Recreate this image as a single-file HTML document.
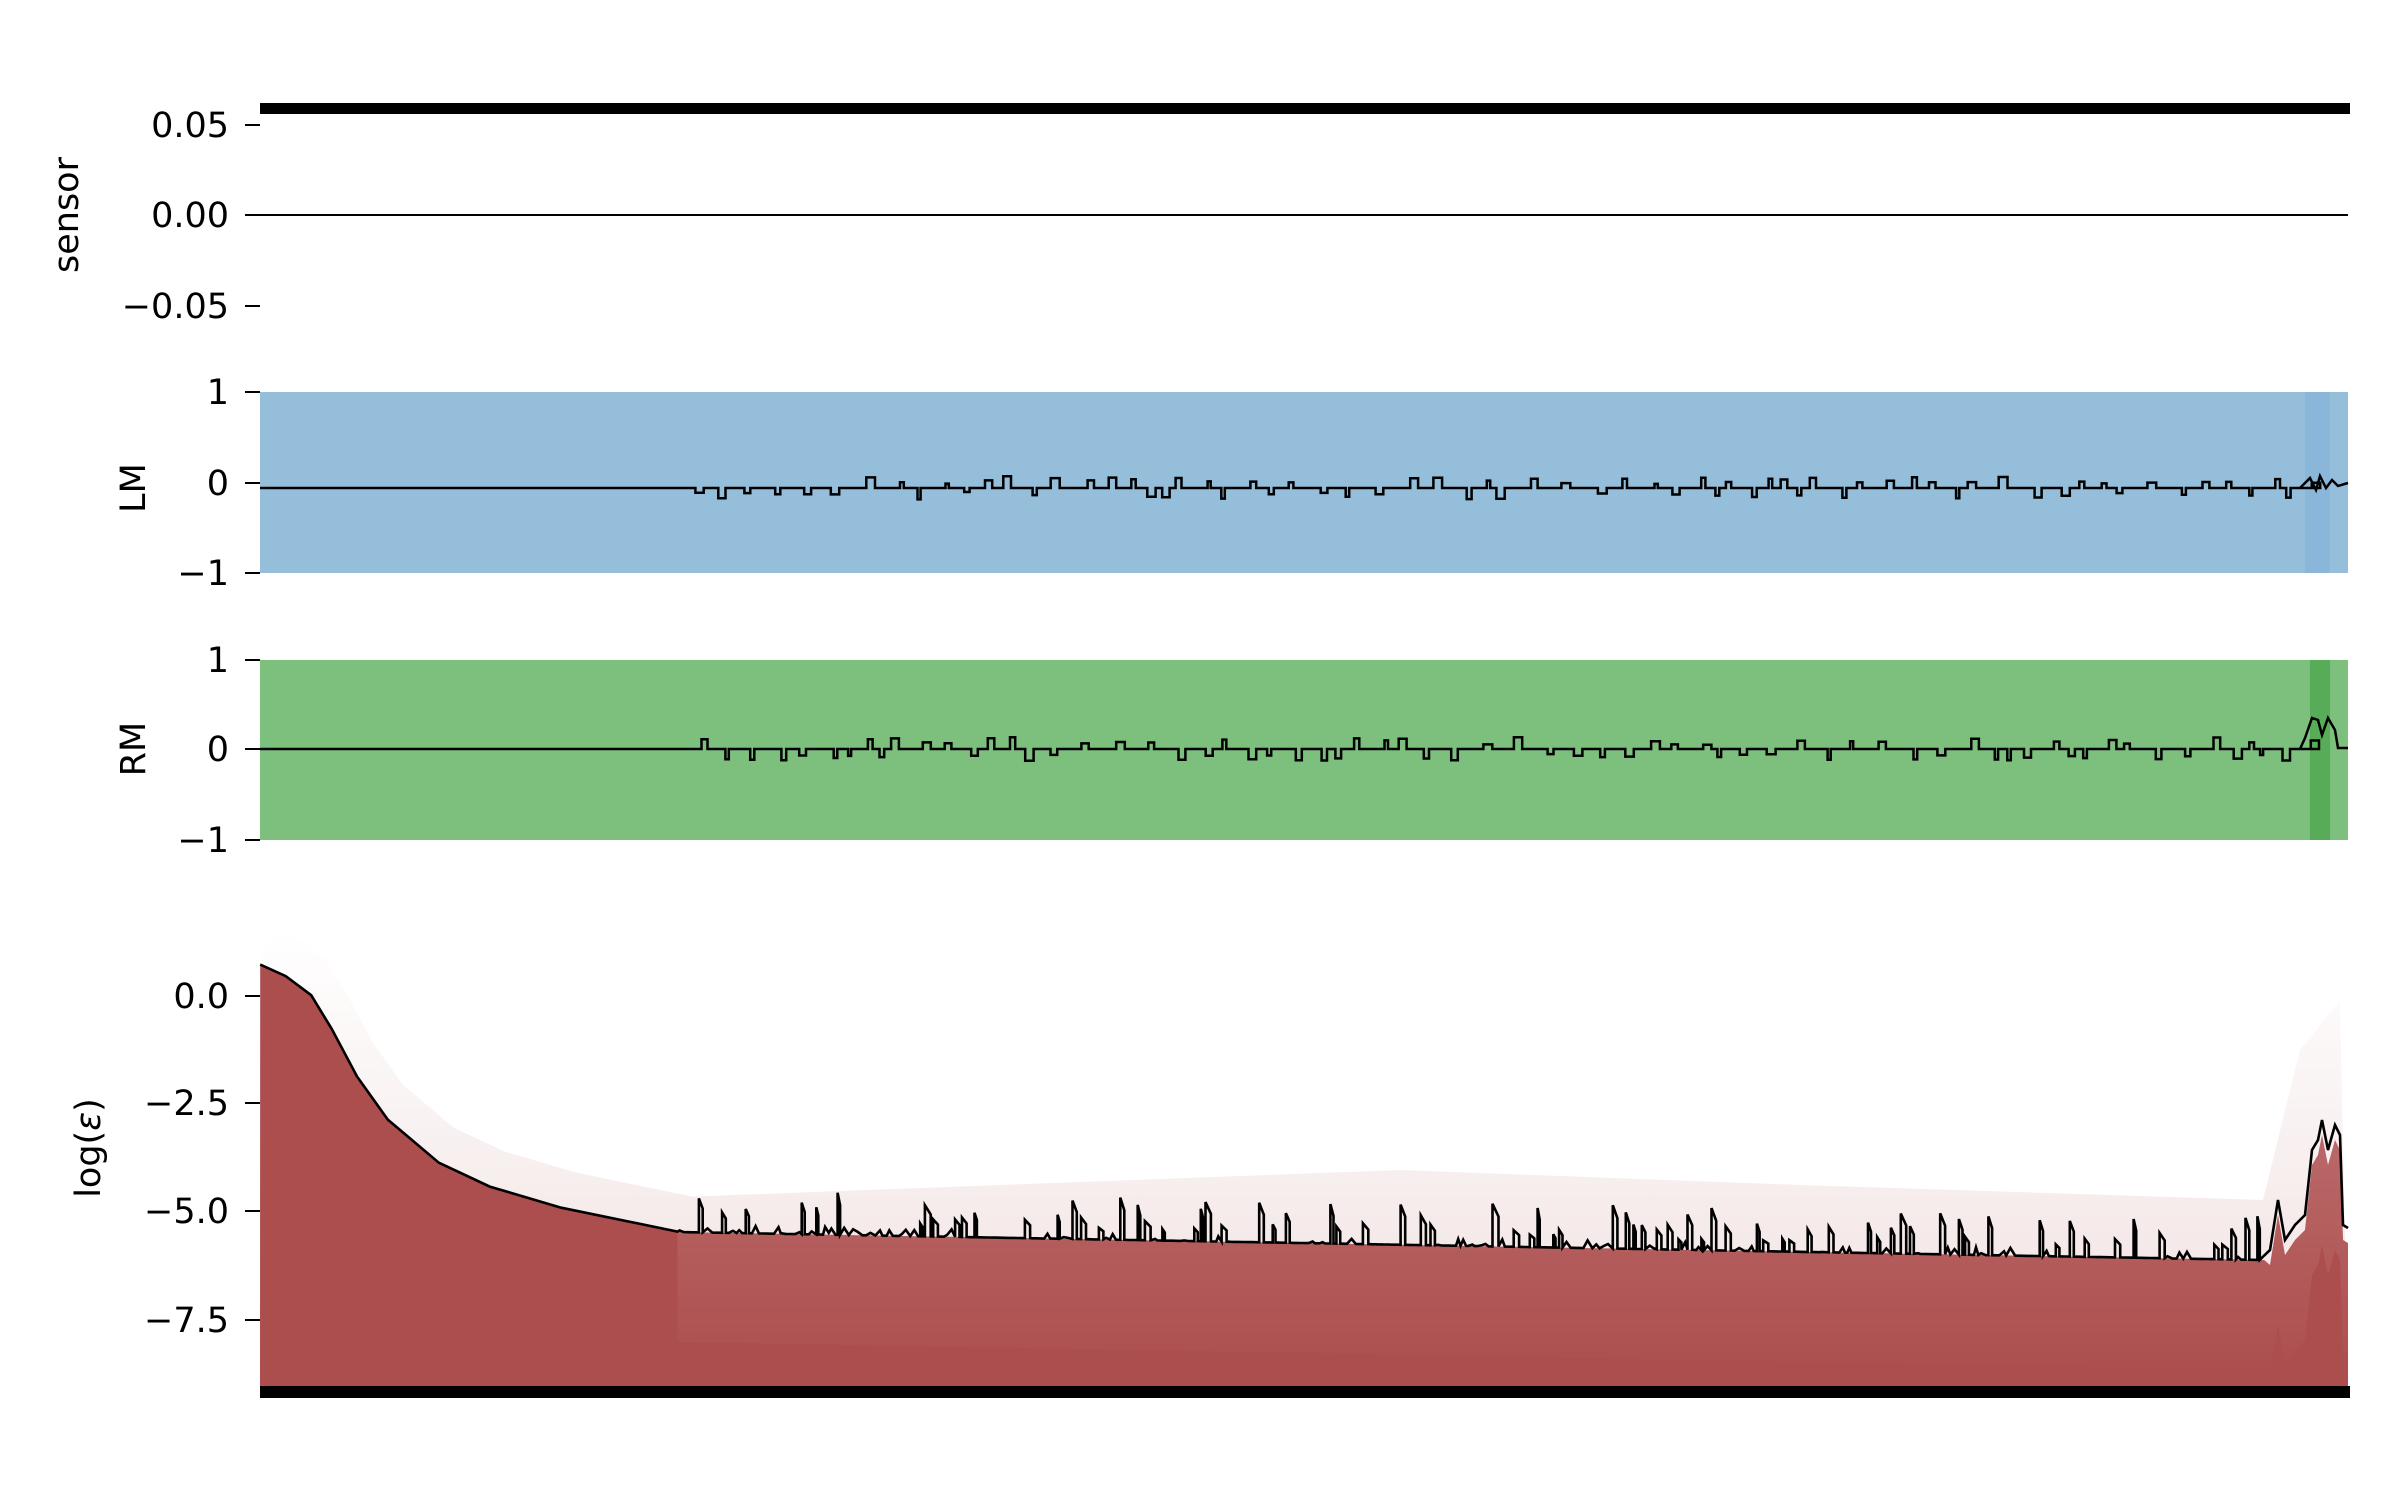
<!DOCTYPE html>
<html><head><meta charset="utf-8"><style>
html,body{margin:0;padding:0;background:#fff;}
svg{display:block;font-family:"DejaVu Sans","Liberation Sans",sans-serif;}
</style></head><body>
<svg id="s" width="2400" height="1500" viewBox="0 0 2400 1500" xmlns="http://www.w3.org/2000/svg">
<defs>
<linearGradient id="pk" x1="0" y1="0" x2="0" y2="1">
<stop offset="0" stop-color="#ad4e4e" stop-opacity="0"/>
<stop offset="1" stop-color="#ad4e4e" stop-opacity="0.18"/>
</linearGradient>
<linearGradient id="lt" x1="0" y1="0" x2="0" y2="1">
<stop offset="0" stop-color="#fff" stop-opacity="0.15"/>
<stop offset="1" stop-color="#fff" stop-opacity="0"/>
</linearGradient>
</defs>
<rect x="260" y="103" width="2090" height="11" fill="#000"/>
<line x1="260" y1="215" x2="2348" y2="215" stroke="#000" stroke-width="2"/>
<rect x="260" y="392" width="2088" height="181" fill="#95bedb"/>
<rect x="2305" y="392" width="25" height="181" fill="#8ab7d9"/>
<rect x="260" y="660" width="2088" height="180" fill="#7dc07d"/>
<rect x="2310" y="660" width="20" height="180" fill="#3f9f3f" opacity="0.6"/>
<path id="pink" fill="url(#pk)" d=""/>
<path id="red" fill="#ad4e4e" d=""/>
<path id="band" fill="url(#lt)" d=""/>
<path id="blk" fill="none" stroke="#000" stroke-width="2.6" d=""/>
<rect x="260" y="1386" width="2090" height="12" fill="#000"/>
<g id="lm" stroke="#000" stroke-width="2.5" fill="none"></g>
<g id="rm" stroke="#000" stroke-width="2.5" fill="none"></g>
<g stroke="#000" stroke-width="2">
<line x1="245" y1="125" x2="260" y2="125"/><line x1="245" y1="215" x2="260" y2="215"/><line x1="245" y1="306" x2="260" y2="306"/>
<line x1="245" y1="392" x2="260" y2="392"/><line x1="245" y1="483" x2="260" y2="483"/><line x1="245" y1="573" x2="260" y2="573"/>
<line x1="245" y1="660" x2="260" y2="660"/><line x1="245" y1="749" x2="260" y2="749"/><line x1="245" y1="840" x2="260" y2="840"/>
<line x1="245" y1="996" x2="260" y2="996"/><line x1="245" y1="1103" x2="260" y2="1103"/><line x1="245" y1="1211" x2="260" y2="1211"/><line x1="245" y1="1320" x2="260" y2="1320"/>
</g>
<g font-size="35" text-anchor="end" fill="#000">
<text x="229" y="137">0.05</text><text x="229" y="227">0.00</text><text x="229" y="318">−0.05</text>
<text x="229" y="404">1</text><text x="229" y="495">0</text><text x="229" y="585">−1</text>
<text x="229" y="672">1</text><text x="229" y="761">0</text><text x="229" y="852">−1</text>
<text x="229" y="1008">0.0</text><text x="229" y="1115">−2.5</text><text x="229" y="1223">−5.0</text><text x="229" y="1332">−7.5</text>
</g>
<g font-size="35" text-anchor="middle" fill="#000">
<text transform="translate(78,215) rotate(-90)">sensor</text>
<text transform="translate(145,488) rotate(-90)">LM</text>
<text transform="translate(145,749) rotate(-90)">RM</text>
<text transform="translate(100,1148) rotate(-90)">log(<tspan font-style="italic">ε</tspan>)</text>
</g>
</svg>
<script>
var seed=7;function r(){seed=(seed*16807)%2147483647;return seed/2147483647;}
var pts=[[510,1008],[560,1020],[610,1040],[650,1075],[700,1125],[760,1170],[860,1215],[960,1240],[1100,1262],[1328,1287]];
var base=pts.map(function(p){return [p[0]/1.96,p[1]/1.045];});
var x0=1328/1.96;
function by(x){return 1232+(x-x0)/(2263-x0)*28;}
var line=[];base.forEach(function(p){line.push(p)});
var X=x0;
while(X<2263){X+=2+r()*3;var y=by(X);if(r()<0.22){var h=10+r()*35;var w=2+r()*4;line.push([X,y]);line.push([X,y-h]);line.push([X+w,y-h*0.7]);line.push([X+w,y]);X+=w;}else line.push([X,y-(r()<0.3?r()*8:0)]);}
var end=[[2270,1250],[2278,1200],[2285,1240],[2295,1225],[2305,1215],[2312,1150],[2318,1140],[2322,1120],[2328,1150],[2335,1125],[2340,1135],[2343,1225],[2348,1228]];
end.forEach(function(p){line.push(p)});
function f(p){return p[0].toFixed(1)+","+p[1].toFixed(1);}
document.getElementById('blk').setAttribute('d',"M"+line.map(f).join("L"));
var rl=line.map(function(p){var y=p[1];if(p[0]>x0&&p[0]<2265)y=Math.max(y,by(p[0]));if(p[0]>=2265)y=y+15;return [p[0],y];});
document.getElementById('red').setAttribute('d',"M260,1392L"+rl.map(f).join("L")+"L2348,1392Z");
var rb=rl.filter(function(p){return p[0]>=x0;});
document.getElementById('band').setAttribute('d',"M"+rb.map(f).join("L")+"L"+rb.slice().reverse().map(function(p){return f([p[0],p[1]+110]);}).join("L")+"Z");
var pk="M260,1392L260,960";base.forEach(function(p){pk+="L"+(p[0]+15)+","+(p[1]-35);});
pk+="L1400,1170L1800,1185L2263,1200L2300,1050L2340,1000L2348,1392Z";
document.getElementById('pink').setAttribute('d',pk);
function ms(id,yl){var g=document.getElementById(id);var s='M260,'+yl+'L'+x0+','+yl;var x=x0;
while(x<2300){x+=6+r()*22;var h=(r()<0.5?-1:1)*(4+r()*8);var w=3+r()*6;s+='L'+x.toFixed(1)+','+yl+'L'+x.toFixed(1)+','+(yl+h).toFixed(1)+'L'+(x+w).toFixed(1)+','+(yl+h).toFixed(1)+'L'+(x+w).toFixed(1)+','+yl;x+=w;}
s+='L2300,'+yl;
if(id=='rm')s+='L2305,738L2312,718L2318,720L2322,735L2328,718L2335,730L2338,748L2348,748';else s+='L2310,478L2316,490L2320,476L2326,488L2332,480L2338,486L2348,483';
var p=document.createElementNS('http://www.w3.org/2000/svg','path');p.setAttribute('d',s);g.appendChild(p);}
ms('lm',488);ms('rm',749);
</script>
</body></html>
